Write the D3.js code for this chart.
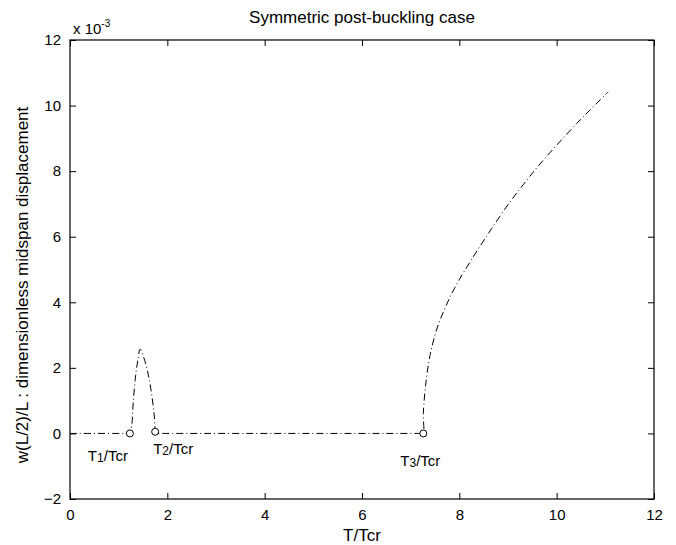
<!DOCTYPE html>
<html>
<head>
<meta charset="utf-8">
<script src="https://cdn.jsdelivr.net/npm/d3@7"></script>
<style>
  html, body { margin: 0; padding: 0; background: #fff; }
  svg { display: block; font-family: "Liberation Sans", Arial, Helvetica, sans-serif; }
</style>
</head>
<body>
<svg id="chart" width="676" height="545"></svg>
<script>
// Midspan deflection path (T/Tcr, w(L/2)/L in units of 1e-3)
const pathT = [0, 1.20, 1.23, 1.27, 1.30, 1.35, 1.40, 1.44, 1.51, 1.61, 1.68, 1.73, 1.75, 1.76, 1.80,
               7.22, 7.26, 7.26, 7.32, 7.40, 7.53, 7.67, 7.84, 8.01, 8.22, 8.42, 8.66, 9.04,
               9.32, 9.59, 9.86, 10.14, 10.41, 10.68, 11.06];
const pathW = [0, 0, 0, 0.26, 0.97, 1.78, 2.29, 2.57, 2.34, 1.78, 1.17, 0.56, 0.10, 0, 0,
               0, 0, 0.61, 1.63, 2.40, 3.15, 3.70, 4.25, 4.72, 5.23, 5.70, 6.24, 7.06,
               7.60, 8.10, 8.56, 9.02, 9.45, 9.86, 10.42];

// Critical temperature markers
const markerT = [1.23, 1.75, 7.26];
const markerW = [0, 0.05, 0];
const markerLabels = ["1", "2", "3"];

// Axis ticks
const xTicks = [0, 2, 4, 6, 8, 10, 12];
const yTicks = [-2, 0, 2, 4, 6, 8, 10, 12];

const svg = d3.select("#chart");
const m = { left: 70, right: 654, top: 40, bottom: 499 };

const x = d3.scaleLinear().domain([0, 12]).range([m.left, m.right]);
const y = d3.scaleLinear().domain([-2, 12]).range([m.bottom, m.top]);

const fsTick = 15;
const fsLabel = 17;

// Axes with inward ticks on all four sides
const tickLen = 6;
const g = svg.append("g");

g.append("g").attr("transform", `translate(0,${m.bottom})`)
  .call(d3.axisBottom(x).tickValues(xTicks).tickSizeInner(-tickLen).tickSizeOuter(0).tickPadding(10).tickFormat(d3.format("d")));
g.append("g").attr("transform", `translate(0,${m.top})`)
  .call(d3.axisTop(x).tickValues(xTicks).tickSizeInner(-tickLen).tickSizeOuter(0).tickFormat(""));
g.append("g").attr("transform", `translate(${m.left},0)`)
  .call(d3.axisLeft(y).tickValues(yTicks).tickSizeInner(-tickLen).tickSizeOuter(0).tickPadding(9).tickFormat(d3.format("d")));
g.append("g").attr("transform", `translate(${m.right},0)`)
  .call(d3.axisRight(y).tickValues(yTicks).tickSizeInner(-tickLen).tickSizeOuter(0).tickFormat(""));

g.selectAll(".domain").remove();
g.selectAll(".tick line").attr("stroke", "#000").attr("stroke-width", 1);
g.selectAll(".tick text").attr("font-size", fsTick).attr("fill", "#000")
  .attr("font-family", "Liberation Sans, Arial, sans-serif");

// Box
svg.append("rect")
  .attr("x", m.left).attr("y", m.top)
  .attr("width", m.right - m.left).attr("height", m.bottom - m.top)
  .attr("fill", "none").attr("stroke", "#000").attr("stroke-width", 1.2);

// Exponent label
const ex = svg.append("text").attr("x", m.left + 3).attr("y", m.top - 6)
  .attr("font-size", fsTick).attr("fill", "#000");
ex.append("tspan").text("x 10");
ex.append("tspan").attr("dy", -7).attr("font-size", 10).text("-3");

// Deflection curve, dash-dot
const line = d3.line()
  .x((d, i) => x(pathT[i]))
  .y((d, i) => y(pathW[i]))
  .curve(d3.curveCatmullRom.alpha(0.5));
svg.append("path")
  .datum(pathT)
  .attr("d", line)
  .attr("fill", "none")
  .attr("stroke", "#000")
  .attr("stroke-width", 1)
  .attr("stroke-dasharray", "7,3,1,3");

// Open circle markers
svg.selectAll("circle.mk")
  .data(markerT)
  .join("circle")
  .attr("class", "mk")
  .attr("cx", d => x(d))
  .attr("cy", (d, i) => y(markerW[i]))
  .attr("r", 3.5)
  .attr("fill", "#fff")
  .attr("stroke", "#000")
  .attr("stroke-width", 1);

// Marker labels T_i/Tcr
const labelPos = [
  { dx: -42, dy: 28 },
  { dx: -2, dy: 22 },
  { dx: -23, dy: 33 }
];
markerT.forEach((t, i) => {
  const tx = svg.append("text")
    .attr("x", x(t) + labelPos[i].dx)
    .attr("y", y(markerW[i]) + labelPos[i].dy)
    .attr("font-size", fsTick).attr("fill", "#000");
  tx.append("tspan").text("T");
  tx.append("tspan").attr("font-size", 12).attr("dy", 1).text(markerLabels[i]);
  tx.append("tspan").attr("dy", -1).text("/Tcr");
});

// Title and axis labels
svg.append("text").attr("x", (m.left + m.right) / 2).attr("y", 23)
  .attr("text-anchor", "middle").attr("font-size", fsLabel).attr("fill", "#000")
  .text("Symmetric post-buckling case");
svg.append("text").attr("x", (m.left + m.right) / 2).attr("y", 541)
  .attr("text-anchor", "middle").attr("font-size", fsLabel).attr("fill", "#000")
  .text("T/Tcr");
svg.append("text")
  .attr("transform", `translate(28,285) rotate(-90)`)
  .attr("text-anchor", "middle").attr("font-size", fsLabel).attr("fill", "#000")
  .text("w(L/2)/L : dimensionless midspan displacement");
</script>
</body>
</html>
